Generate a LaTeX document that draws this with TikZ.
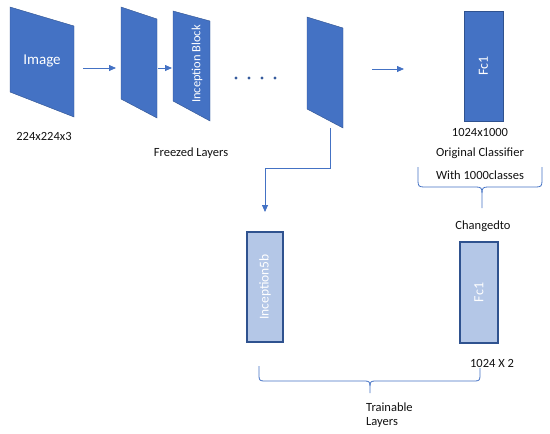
\documentclass[tikz,border=0pt]{standalone}
\usepackage{fontspec}
\setmainfont{Carlito}
\usetikzlibrary{arrows.meta}
\definecolor{dblue}{HTML}{4472C4}
\definecolor{lblue}{HTML}{B4C7E7}
\definecolor{oblue}{HTML}{2F528F}
\definecolor{txt}{HTML}{111111}
\begin{document}
\begin{tikzpicture}[x=1pt,y=-1pt,
  layer/.style={fill=dblue,draw=oblue,line width=0.4pt},
  lbox/.style={fill=lblue,draw=oblue,line width=1.2pt,inner sep=0pt},
  conn/.style={draw=dblue,line width=0.8pt},
  arr/.style={conn,-{Triangle[length=7pt,width=6pt]}},
  lbl/.style={text=txt,font=\fontsize{12.5}{14}\selectfont,inner sep=0pt},
  wtxt/.style={text=white,inner sep=0pt}]
\useasboundingbox (0,0) rectangle (550,434);

% freezed layers
\filldraw[layer] (10,7) -- (74,26) -- (74,117) -- (10,92) -- cycle;
\node[wtxt,font=\fontsize{15}{18}\selectfont] (img) at (42,61) {Image};
\filldraw[layer] (121,7) -- (157,19) -- (157,118) -- (121,99) -- cycle;
\filldraw[layer] (173,11) -- (210,21) -- (210,121) -- (173,101) -- cycle;
\node[wtxt,rotate=90,font=\fontsize{12.5}{15}\selectfont] (inc) at (197,64) {Inception Block};
\filldraw[layer] (307,17) -- (343,28) -- (343,128) -- (307,109) -- cycle;

\coordinate (a1s) at (83,68);  \coordinate (a1e) at (116,68);
\coordinate (a2s) at (158,68); \coordinate (a2e) at (172,68);
\coordinate (a3s) at (372,69); \coordinate (a3e) at (404,69);
\draw[arr] (a1s) -- (a1e);
\draw[arr] (a2s) -- (a2e);
\draw[arr] (a3s) -- (a3e);

\foreach \x in {236,249,262,275} \fill[dblue!80!black] (\x,78) circle (1.6);

\node[lbl] (dim1) at (44,136) {224x224x3};
\node[lbl] (frz) at (191,153) {Freezed Layers};

% original classifier
\node[fill=dblue,draw=oblue,line width=0.4pt,minimum width=39pt,minimum height=110pt,inner sep=0pt] (fc1) at (483.5,66) {};
\node[wtxt,rotate=90,font=\fontsize{14}{16}\selectfont] at (fc1.center) {Fc1};
\node[lbl] (dim2) at (480,132) {1024x1000};
\node[lbl] (orig) at (480,153) {Original Classifier};
\node[lbl] (with) at (480,175) {With 1000classes};

% top brace
\draw[conn] (418,167) -- (418,181) .. controls (418,186) and (419,187) .. (424,187)
  -- (476,187) .. controls (481,187) and (482,188) .. (482,193) -- (482,208);
\draw[conn] (482,193) .. controls (482,188) and (483,187) .. (488,187)
  -- (536,187) .. controls (541,187) and (542,186) .. (542,181) -- (542,167);

\node[lbl] (chg) at (483,226) {Changedto};

% connector to Inception5b
\coordinate (c0) at (330,128);
\coordinate (c1) at (330,168);
\coordinate (c2) at (265,168);
\node[lbox,minimum width=36pt,minimum height=110pt] (inc5) at (265,287) {};
\node[wtxt,rotate=90,font=\fontsize{13.5}{16}\selectfont] at (inc5.center) {Inception5b};
\draw[conn,-{Triangle[length=7pt,width=6pt]}] (c0) -- (c1) -- (c2) -- (inc5.north |- 0,212);

% new classifier
\node[lbox,minimum width=38pt,minimum height=101pt] (fc2) at (479,292.5) {};
\node[wtxt,rotate=90,font=\fontsize{14}{16}\selectfont] at (fc2.center) {Fc1};
\node[lbl] (dim3) at (492,363) {1024 X 2};

% bottom brace
\draw[conn] (259,366) -- (259,376) .. controls (259,380) and (260,381) .. (264,381)
  -- (365,381) .. controls (369,381) and (370,382) .. (370,386) -- (370,393);
\draw[conn] (370,386) .. controls (370,382) and (371,381) .. (375,381)
  -- (475,381) .. controls (479,381) and (480,380) .. (480,376) -- (480,368);

\node[lbl,align=left,anchor=north west,font=\fontsize{12.5}{13.5}\selectfont] (train) at (366,403) {Trainable\\Layers};
\end{tikzpicture}
\end{document}
